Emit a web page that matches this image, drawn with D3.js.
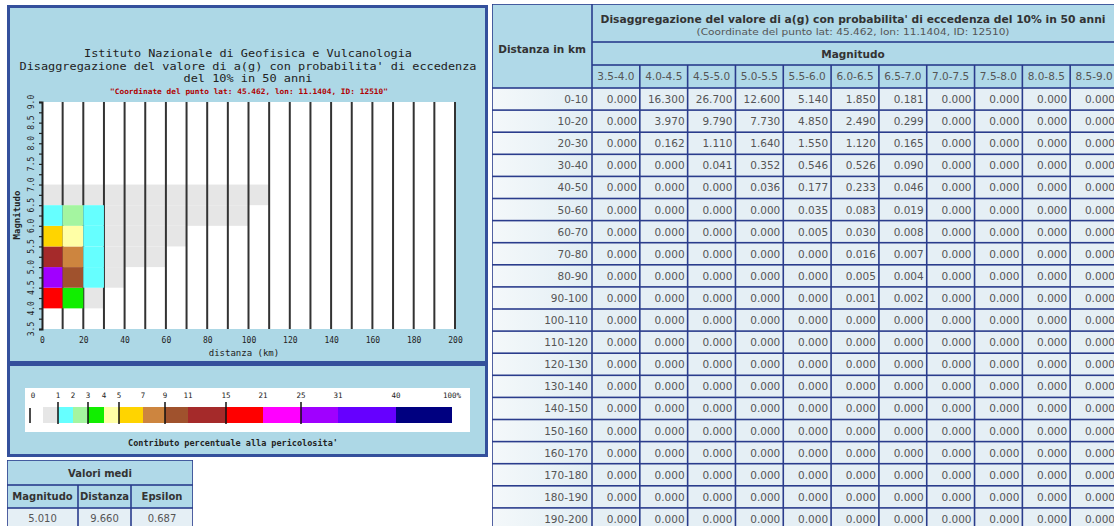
<!DOCTYPE html>
<html><head><meta charset="utf-8">
<script src="https://cdn.jsdelivr.net/npm/d3@7/dist/d3.min.js"></script>
<style>body{margin:0;background:#fff;}svg{display:block;}</style>
</head><body>
<svg id="chart" width="1114" height="526"></svg>
<script>
// ---------------- DATA ----------------
const magnitudeBins = ["3.5-4.0","4.0-4.5","4.5-5.0","5.0-5.5","5.5-6.0","6.0-6.5","6.5-7.0","7.0-7.5","7.5-8.0","8.0-8.5","8.5-9.0"];
const distanceBins = ["0-10","10-20","20-30","30-40","40-50","50-60","60-70","70-80","80-90","90-100",
  "100-110","110-120","120-130","130-140","140-150","150-160","160-170","170-180","180-190","190-200"];
// percentage contribution, one row per distance bin, one value per magnitude bin
const row0_10   = [0, 16.300, 26.700, 12.600, 5.140, 1.850, 0.181, 0, 0, 0, 0];
const row10_20  = [0, 3.970, 9.790, 7.730, 4.850, 2.490, 0.299, 0, 0, 0, 0];
const row20_30  = [0, 0.162, 1.110, 1.640, 1.550, 1.120, 0.165, 0, 0, 0, 0];
const row30_40  = [0, 0, 0.041, 0.352, 0.546, 0.526, 0.090, 0, 0, 0, 0];
const row40_50  = [0, 0, 0, 0.036, 0.177, 0.233, 0.046, 0, 0, 0, 0];
const row50_60  = [0, 0, 0, 0.0004, 0.035, 0.083, 0.019, 0, 0, 0, 0];
const row60_70  = [0, 0, 0, 0, 0.005, 0.030, 0.008, 0, 0, 0, 0];
const row70_80  = [0, 0, 0, 0, 0, 0.016, 0.007, 0, 0, 0, 0];
const row80_90  = [0, 0, 0, 0, 0, 0.005, 0.004, 0, 0, 0, 0];
const row90_100 = [0, 0, 0, 0, 0, 0.001, 0.002, 0, 0, 0, 0];
const row100_110 = [0, 0, 0, 0, 0, 0, 0.0004, 0, 0, 0, 0];
const rowZero   = [0, 0, 0, 0, 0, 0, 0, 0, 0, 0, 0];
const contributions = [row0_10,row10_20,row20_30,row30_40,row40_50,row50_60,row60_70,row70_80,row80_90,row90_100,
  row100_110,rowZero,rowZero,rowZero,rowZero,rowZero,rowZero,rowZero,rowZero,rowZero];

const legendThresholds = [0,1,2,3,4,5,7,9,11,15,21,25,31,40,100];
const legendLabels = ["0","1","2","3","4","5","7","9","11","15","21","25","31","40","100%"];
const legendColors = ["#e6e6e6","#66ffff","#a4f5a0","#11ee00","#ffffa6","#ffd400","#cd853f","#a0522d","#a52a2a","#ff0000","#ff00ff","#a000ff","#6600ff","#000080"];
const xTickValues = [0,20,40,60,80,100,120,140,160,180,200];
const yTickValues = [3.5,4.0,4.5,5.0,5.5,6.0,6.5,7.0,7.5,8.0,8.5,9.0];

const meanHeaders = ["Magnitudo","Distanza","Epsilon"];
const meanValues = [5.010, 9.660, 0.687];

const plotTitle = ["Istituto Nazionale di Geofisica e Vulcanologia",
  "Disaggregazione del valore di a(g) con probabilita' di eccedenza",
  "del 10% in 50 anni"];
const plotSubtitle = "\"Coordinate del punto lat: 45.462, lon: 11.1404, ID: 12510\"";
const tableTitle = "Disaggregazione del valore di a(g) con probabilita' di eccedenza del 10% in 50 anni";
const tableSubtitle = "(Coordinate del punto lat: 45.462, lon: 11.1404, ID: 12510)";

// ---------------- DRAW ----------------
const svg = d3.select("#chart");
const MONO = "'DejaVu Sans Mono', 'Liberation Mono', monospace";
const SANS = "'DejaVu Sans', Verdana, sans-serif";
const panelFill = "#add8e6", panelStroke = "#34509c";

svg.append("rect").attr("width",1114).attr("height",526).attr("fill","#fff");

// panels
svg.append("rect").attr("x",8.5).attr("y",6.5).attr("width",478).attr("height",356)
  .attr("fill",panelFill).attr("stroke",panelStroke).attr("stroke-width",3);
svg.append("rect").attr("x",8.5).attr("y",364.5).attr("width",478).attr("height",91)
  .attr("fill",panelFill).attr("stroke",panelStroke).attr("stroke-width",3);

// titles
const titleY = [57, 70, 82];
const titleW = [328, 457, 129];
plotTitle.forEach((t,i)=>{
  svg.append("text").attr("x",248).attr("y",titleY[i]).attr("text-anchor","middle")
    .attr("font-family",MONO).attr("font-size",10.5).attr("fill","#222")
    .attr("textLength",titleW[i]).attr("lengthAdjust","spacingAndGlyphs").text(t);
});
svg.append("text").attr("x",249).attr("y",94).attr("text-anchor","middle")
  .attr("font-family",MONO).attr("font-size",7.5).attr("fill","#b00000").attr("font-weight","bold")
  .attr("textLength",278).attr("lengthAdjust","spacingAndGlyphs").text(plotSubtitle);

// scales
const x = d3.scaleLinear().domain([0,200]).range([42,455]);
const y = d3.scaleLinear().domain([3.5,9.0]).range([329,102]);
const color = d3.scaleThreshold().domain(legendThresholds.slice(1,-1)).range(legendColors);

svg.append("rect").attr("x",x(0)).attr("y",y(9)).attr("width",x(200)-x(0)).attr("height",y(3.5)-y(9)).attr("fill","#fff");

const cells = [];
distanceBins.forEach((d,i)=>{
  const [d0,d1] = d.split("-").map(Number);
  magnitudeBins.forEach((m,j)=>{
    const [m0,m1] = m.split("-").map(Number);
    const v = contributions[i][j];
    if (v > 0) cells.push({d0,d1,m0,m1,v});
  });
});
function drawCells(list){
  svg.append("g").selectAll("rect").data(list).join("rect")
    .attr("x",c=>x(c.d0)).attr("y",c=>y(c.m1))
    .attr("width",c=>x(c.d1)-x(c.d0)).attr("height",c=>y(c.m0)-y(c.m1))
    .attr("fill",c=>color(c.v));
}
drawCells(cells.filter(c=>c.v<1));

// vertical grid lines at distance bin edges
const distEdges = distanceBins.map(d=>+d.split("-")[1]);
svg.append("g").selectAll("line").data(distEdges).join("line")
  .attr("x1",d=>x(d)).attr("x2",d=>x(d)).attr("y1",y(9)).attr("y2",y(3.5))
  .attr("stroke","#333").attr("stroke-width",2);

drawCells(cells.filter(c=>c.v>=1));

// y axis
const yAxis = d3.axisLeft(y).tickValues(d3.range(3.5,9.01,0.25)).tickSize(3).tickFormat("");
const ya = svg.append("g").attr("transform",`translate(${x(0)},0)`).call(yAxis);
ya.select(".domain").attr("stroke","#222").attr("stroke-width",2);
ya.selectAll(".tick line").attr("stroke","#222").attr("stroke-width",1.2);
svg.append("g").selectAll("text").data(yTickValues).join("text")
  .attr("transform",d=>`translate(34,${y(d)}) rotate(-90)`).attr("text-anchor","middle")
  .attr("font-family",MONO).attr("font-size",8).attr("fill","#222").text(d=>d.toFixed(1));
svg.append("text").attr("transform","translate(20,215) rotate(-90)").attr("text-anchor","middle")
  .attr("font-family",MONO).attr("font-size",9).attr("font-weight","bold").attr("fill","#222").text("Magnitudo");

// x axis labels
const xAxis = d3.axisBottom(x).tickValues(xTickValues).tickSize(0).tickPadding(8).tickFormat(d3.format("d"));
const xa = svg.append("g").attr("transform",`translate(0,${y(3.5)})`).call(xAxis);
xa.select(".domain").remove();
xa.selectAll("text").attr("font-family",MONO).attr("font-size",8).attr("fill","#222");
svg.append("text").attr("x",244).attr("y",356).attr("text-anchor","middle")
  .attr("font-family",MONO).attr("font-size",9).attr("fill","#222").text("distanza (km)");

// legend
svg.append("rect").attr("x",25).attr("y",388).attr("width",445).attr("height",44).attr("fill","#fff");
const legendStops = [43,58,73,88,104,119,143,165,188,226,263,301,338,396,452];
const lx = d3.scaleLinear().domain(legendThresholds).range(legendStops);
const zeroX = 30;
svg.append("g").selectAll("rect").data(legendColors).join("rect")
  .attr("x",(c,i)=>lx(legendThresholds[i])).attr("y",407)
  .attr("width",(c,i)=>lx(legendThresholds[i+1])-lx(legendThresholds[i])).attr("height",16)
  .attr("fill",c=>c);
svg.append("line").attr("x1",zeroX).attr("x2",zeroX).attr("y1",408).attr("y2",423).attr("stroke","#111").attr("stroke-width",1.5);
svg.append("g").selectAll("line").data(legendThresholds.filter((t,i)=>i%2===1 && i<13)).join("line")
  .attr("x1",d=>lx(d)).attr("x2",d=>lx(d)).attr("y1",402).attr("y2",424).attr("stroke","#111").attr("stroke-width",1.5);
svg.append("g").selectAll("text").data(legendLabels).join("text")
  .attr("x",(t,i)=> i===0 ? zeroX+3 : lx(legendThresholds[i]))
  .attr("y",398).attr("text-anchor","middle")
  .attr("font-family",MONO).attr("font-size",7.5).attr("fill","#222").text(t=>t);
svg.append("text").attr("x",233).attr("y",446).attr("text-anchor","middle")
  .attr("font-family",MONO).attr("font-size",8.5).attr("font-weight","bold").attr("fill","#222")
  .text("Contributo percentuale alla pericolosita'");

// ---------- generic table cell helper ----------
const border = "#2a3c8c";
function cell(g, x0, y0, x1, y1, fill){
  g.append("rect").attr("x",x0+0.8).attr("y",y0+0.8).attr("width",x1-x0-1.6).attr("height",y1-y0-1.6).attr("fill",fill);
}
const headFill = "#b0d9e8", dataFill = "#e5eff5";

// defs gradient for first column
const defs = svg.append("defs");
const grad = defs.append("linearGradient").attr("id","rowgrad");
grad.append("stop").attr("offset","0%").attr("stop-color","#f4f8fa");
grad.append("stop").attr("offset","100%").attr("stop-color","#e2eef4");

// ---------- Valori medi table ----------
const mt = svg.append("g");
const mx = d3.scaleOrdinal().domain(meanHeaders).range([[7,78],[78,131],[131,193]]);
mt.append("rect").attr("x",7).attr("y",460).attr("width",186).attr("height",70).attr("fill",border);
cell(mt,7,460,193,485,headFill);
mt.append("text").attr("x",100).attr("y",477).attr("text-anchor","middle").attr("font-family",SANS)
  .attr("font-size",10).attr("font-weight","bold").attr("fill","#333").text("Valori medi");
meanHeaders.forEach((h,i)=>{
  const [a,b] = mx(h);
  cell(mt,a,485,b,508,headFill);
  mt.append("text").attr("x",(a+b)/2).attr("y",500).attr("text-anchor","middle").attr("font-family",SANS)
    .attr("font-size",10).attr("font-weight","bold").attr("fill","#333").text(h);
  cell(mt,a,508,b,532,dataFill);
  mt.append("text").attr("x",(a+b)/2).attr("y",522).attr("text-anchor","middle").attr("font-family",SANS)
    .attr("font-size",10).attr("fill","#555").text(meanValues[i].toFixed(3));
});

// ---------- right table ----------
const tg = svg.append("g");
const tx0 = 492, tx1 = 592, tRight = 1118;
const colX = d3.scaleBand().domain(magnitudeBins).range([tx1, tRight]);
const rowY = d3.scaleBand().domain(distanceBins).range([88, 88 + distanceBins.length*22.1]);
tg.append("rect").attr("x",tx0).attr("y",4).attr("width",tRight-tx0).attr("height",rowY.range()[1]-4).attr("fill",border);
cell(tg,tx0,4,tx1,88,headFill);
tg.append("text").attr("x",(tx0+tx1)/2).attr("y",53).attr("text-anchor","middle").attr("font-family",SANS)
  .attr("font-size",10.5).attr("font-weight","bold").attr("fill","#333").text("Distanza in km");
cell(tg,tx1,4,tRight,42,headFill);
tg.append("text").attr("x",853).attr("y",23).attr("text-anchor","middle").attr("font-family",SANS)
  .attr("font-size",10.5).attr("font-weight","bold").attr("fill","#333")
  .attr("textLength",505).attr("lengthAdjust","spacingAndGlyphs").text(tableTitle);
tg.append("text").attr("x",853).attr("y",35).attr("text-anchor","middle").attr("font-family",SANS)
  .attr("font-size",9.5).attr("fill","#555")
  .attr("textLength",313).attr("lengthAdjust","spacingAndGlyphs").text(tableSubtitle);
cell(tg,tx1,42,tRight,65,headFill);
tg.append("text").attr("x",853).attr("y",58).attr("text-anchor","middle").attr("font-family",SANS)
  .attr("font-size",10.5).attr("font-weight","bold").attr("fill","#333").text("Magnitudo");
magnitudeBins.forEach(m=>{
  cell(tg,colX(m),65,colX(m)+colX.bandwidth(),88,headFill);
  tg.append("text").attr("x",colX(m)+colX.bandwidth()/2).attr("y",80).attr("text-anchor","middle")
    .attr("font-family",SANS).attr("font-size",10.5).attr("fill","#555").text(m);
});
distanceBins.forEach((d,i)=>{
  const y0 = rowY(d), y1 = y0 + rowY.bandwidth();
  cell(tg,tx0,y0,tx1,y1,"url(#rowgrad)");
  tg.append("text").attr("x",tx1-4).attr("y",y0+15).attr("text-anchor","end")
    .attr("font-family",SANS).attr("font-size",10.5).attr("fill","#555").text(d);
  magnitudeBins.forEach((m,j)=>{
    cell(tg,colX(m),y0,colX(m)+colX.bandwidth(),y1,dataFill);
    tg.append("text").attr("x",colX(m)+colX.bandwidth()-3).attr("y",y0+15).attr("text-anchor","end")
      .attr("font-family",SANS).attr("font-size",10.5).attr("fill","#555").text(contributions[i][j].toFixed(3));
  });
});
</script>
</body></html>
